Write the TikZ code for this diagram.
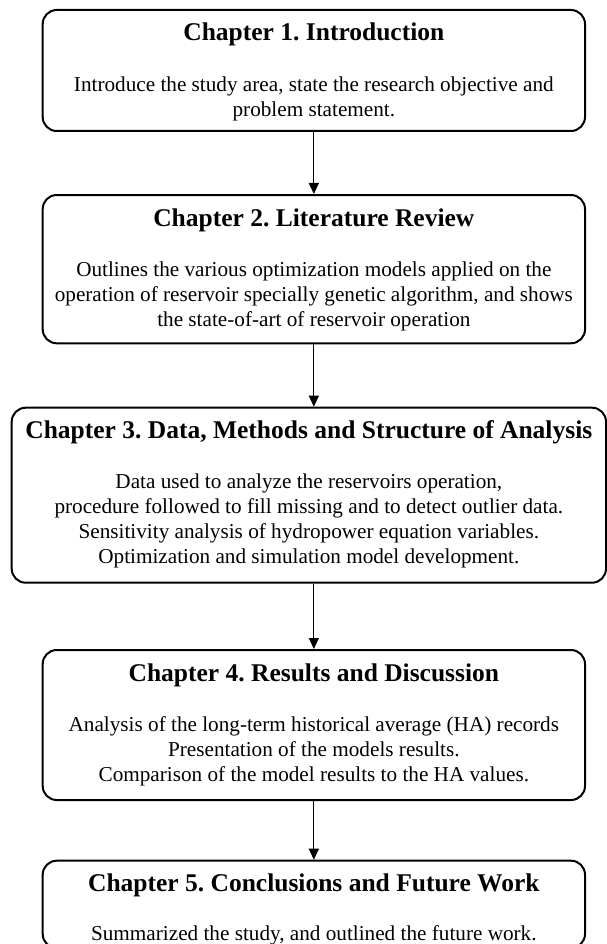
\documentclass[tikz,border=0pt]{standalone}
\usepackage{fontspec}
\setmainfont{Liberation Serif}
\usetikzlibrary{arrows.meta}
\frenchspacing
\begin{document}
\begin{tikzpicture}[x=1pt,y=-1pt,
  chapbox/.style={draw, line width=2pt, rounded corners=14pt, inner sep=0pt},
  ttl/.style={font=\fontsize{25.5}{30}\selectfont\bfseries, anchor=base, inner sep=0pt},
  bodytxt/.style={font=\fontsize{21.2}{25}\selectfont, align=center, anchor=north, inner sep=0pt},
  link/.style={line width=1pt, -{Triangle[length=11pt,width=10pt]}}]
\useasboundingbox (0,0) rectangle (607,944);
% boxes
\node[chapbox, minimum width=542.3pt, minimum height=121pt] (b1) at (313.85,70.5) {};
\node[chapbox, minimum width=542.3pt, minimum height=148.3pt] (b2) at (313.85,269.15) {};
\node[chapbox, minimum width=594.3pt, minimum height=175pt] (b3) at (308.85,495.2) {};
\node[chapbox, minimum width=542.3pt, minimum height=150pt] (b4) at (313.85,725) {};
\node[chapbox, minimum width=542.3pt, minimum height=87.3pt] (b5) at (313.85,904.35) {};
% titles
\node[ttl] (t1) at (313.85,41) {Chapter 1. Introduction};
\node[ttl] (t2) at (313.85,226) {Chapter 2. Literature Review};
\node[ttl] (t3) at (308.85,438.7) {Chapter 3. Data, Methods and Structure of Analysis};
\node[ttl] (t4) at (313.85,681) {Chapter 4. Results and Discussion};
\node[ttl] (t5) at (313.85,891.7) {Chapter 5. Conclusions and Future Work};
% bodies
\node[bodytxt] (d1) at (313.85,73.5) {\strut Introduce the study area, state the research objective and\\problem statement.};
\node[bodytxt] (d2) at (313.85,258.5) {\strut Outlines the various optimization models applied on the\\operation of reservoir specially genetic algorithm, and shows\\the state-of-art of reservoir operation};
\node[bodytxt] (d3) at (308.85,471.2) {\strut Data used to analyze the reservoirs operation,\\procedure followed to fill missing and to detect outlier data.\\Sensitivity analysis of hydropower equation variables.\\Optimization and simulation model development.};
\node[bodytxt] (d4) at (313.85,713.5) {\strut Analysis of the long-term historical average (HA) records\\Presentation of the models results.\\Comparison of the model results to the HA values.};
\node[bodytxt] (d5) at (313.85,922.7) {\strut Summarized the study, and outlined the future work.};
% connectors
\draw[link] (b1.south) -- (b2.north);
\draw[link] (b2.south) -- (b2.south |- b3.north);
\draw[link] (b4.north |- b3.south) -- (b4.north);
\draw[link] (b4.south) -- (b5.north);
\end{tikzpicture}
\end{document}
